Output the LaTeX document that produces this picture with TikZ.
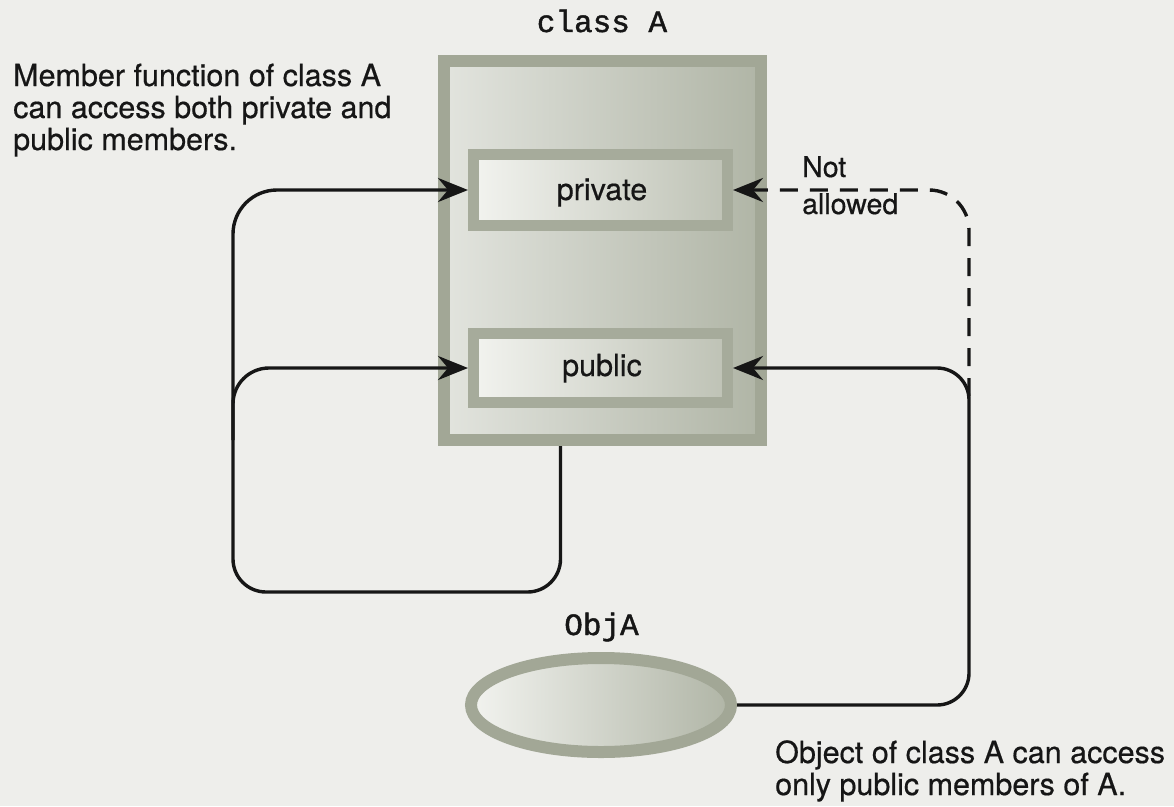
\documentclass[tikz,border=0pt]{standalone}
\usepackage{fontspec}
\setmainfont{TeX Gyre Heros}[FakeBold=0.5]
\newfontfamily\codefont{Liberation Mono}[FakeBold=1.4]
\usetikzlibrary{arrows.meta,shapes.geometric}

\definecolor{paper}{RGB}{238,238,235}
\definecolor{frame}{RGB}{162,167,150}
\definecolor{fillhi}{RGB}{226,228,222}
\definecolor{filllo}{RGB}{176,181,166}
\definecolor{slotframe}{RGB}{166,171,155}
\definecolor{slothi}{RGB}{242,243,239}
\definecolor{slotlo}{RGB}{190,194,181}
\definecolor{ink}{RGB}{22,22,22}

\begin{document}
\begin{tikzpicture}[x=1pt,y=-1pt,
  classbox/.style={draw=frame, line width=12pt, outer sep=6pt, inner sep=0pt,
    left color=fillhi, right color=filllo},
  slot/.style={draw=slotframe, line width=11pt, outer sep=5.5pt, inner sep=0pt,
    left color=slothi, right color=slotlo, minimum width=254pt},
  objshape/.style={ellipse, draw=frame, line width=12pt, outer sep=6pt, inner sep=0pt,
    left color=slothi, right color=filllo, minimum width=260pt, minimum height=94pt},
  wire/.style={draw=ink, line width=3.4pt},
  conn/.style={wire, -{Stealth[length=30pt,width=24pt,inset=10pt]}},
  forbidden/.style={conn, dash pattern=on 18pt off 12pt},
  code/.style={font=\codefont\fontsize{31}{31}\selectfont, text=ink, inner sep=0pt},
  note/.style={font=\fontsize{30.5}{32}\selectfont, text=ink, inner sep=0pt},
  slotlbl/.style={font=\fontsize{30.5}{32}\selectfont, text=ink, inner sep=0pt},
  smallnote/.style={font=\fontsize{28.5}{37}\selectfont, text=ink, inner sep=0pt}]

% page
\fill[paper] (0,0) rectangle (1174,806);
\useasboundingbox (0,0) rectangle (1174,806);

% class A with its private and public parts
\node[classbox, minimum width=317pt, minimum height=379pt] (classA) at (602.5,250.5) {};
\node[slot, minimum height=71pt] (private) at (600.5,190) {};
\node[slot, minimum height=69pt] (public) at (600.5,368) {};
\node[slotlbl, anchor=base] (privtext) at (602,200) {private};
\node[slotlbl, anchor=base] (pubtext) at (602,376) {public};
\node[code, anchor=base] (classlbl) at (602,32) {class A};

% the object
\node[objshape] (objA) at (601,705) {};
\node[code, anchor=base] (objlbl) at (601.5,635) {ObjA};

% member functions reach both parts
\coordinate (trunkfoot) at (233,592);
\coordinate (trunkfork) at (233,440);
\draw[conn, rounded corners=33pt] ([xshift=-42pt]classA.south) |- (trunkfoot)
  [rounded corners=44pt] |- (private.west);
\draw[conn, rounded corners=36pt] (trunkfork) |- (public.west);

% the object reaches only the public part
\coordinate (objturn) at (969,705);
\coordinate (objfork) at (969,396);
\draw[conn, rounded corners=32pt] (objA.east) -- (objturn) |- (public.east);
\draw[forbidden, rounded corners=40pt] (objfork) |- (private.east);

% notes
\node[note, anchor=base west] (memberlbl) at (13,86)
  {\begin{tabular}[t]{@{}l@{}}Member function of class A\\can access both private and\\public members.\end{tabular}};
\node[smallnote, anchor=base west] (notlbl) at (802,177)
  {\begin{tabular}[t]{@{}l@{}}Not\\allowed\end{tabular}};
\node[note, anchor=base west] (objnote) at (775,763)
  {\begin{tabular}[t]{@{}l@{}}Object of class A can access\\only public members of A.\end{tabular}};
\end{tikzpicture}
\end{document}
